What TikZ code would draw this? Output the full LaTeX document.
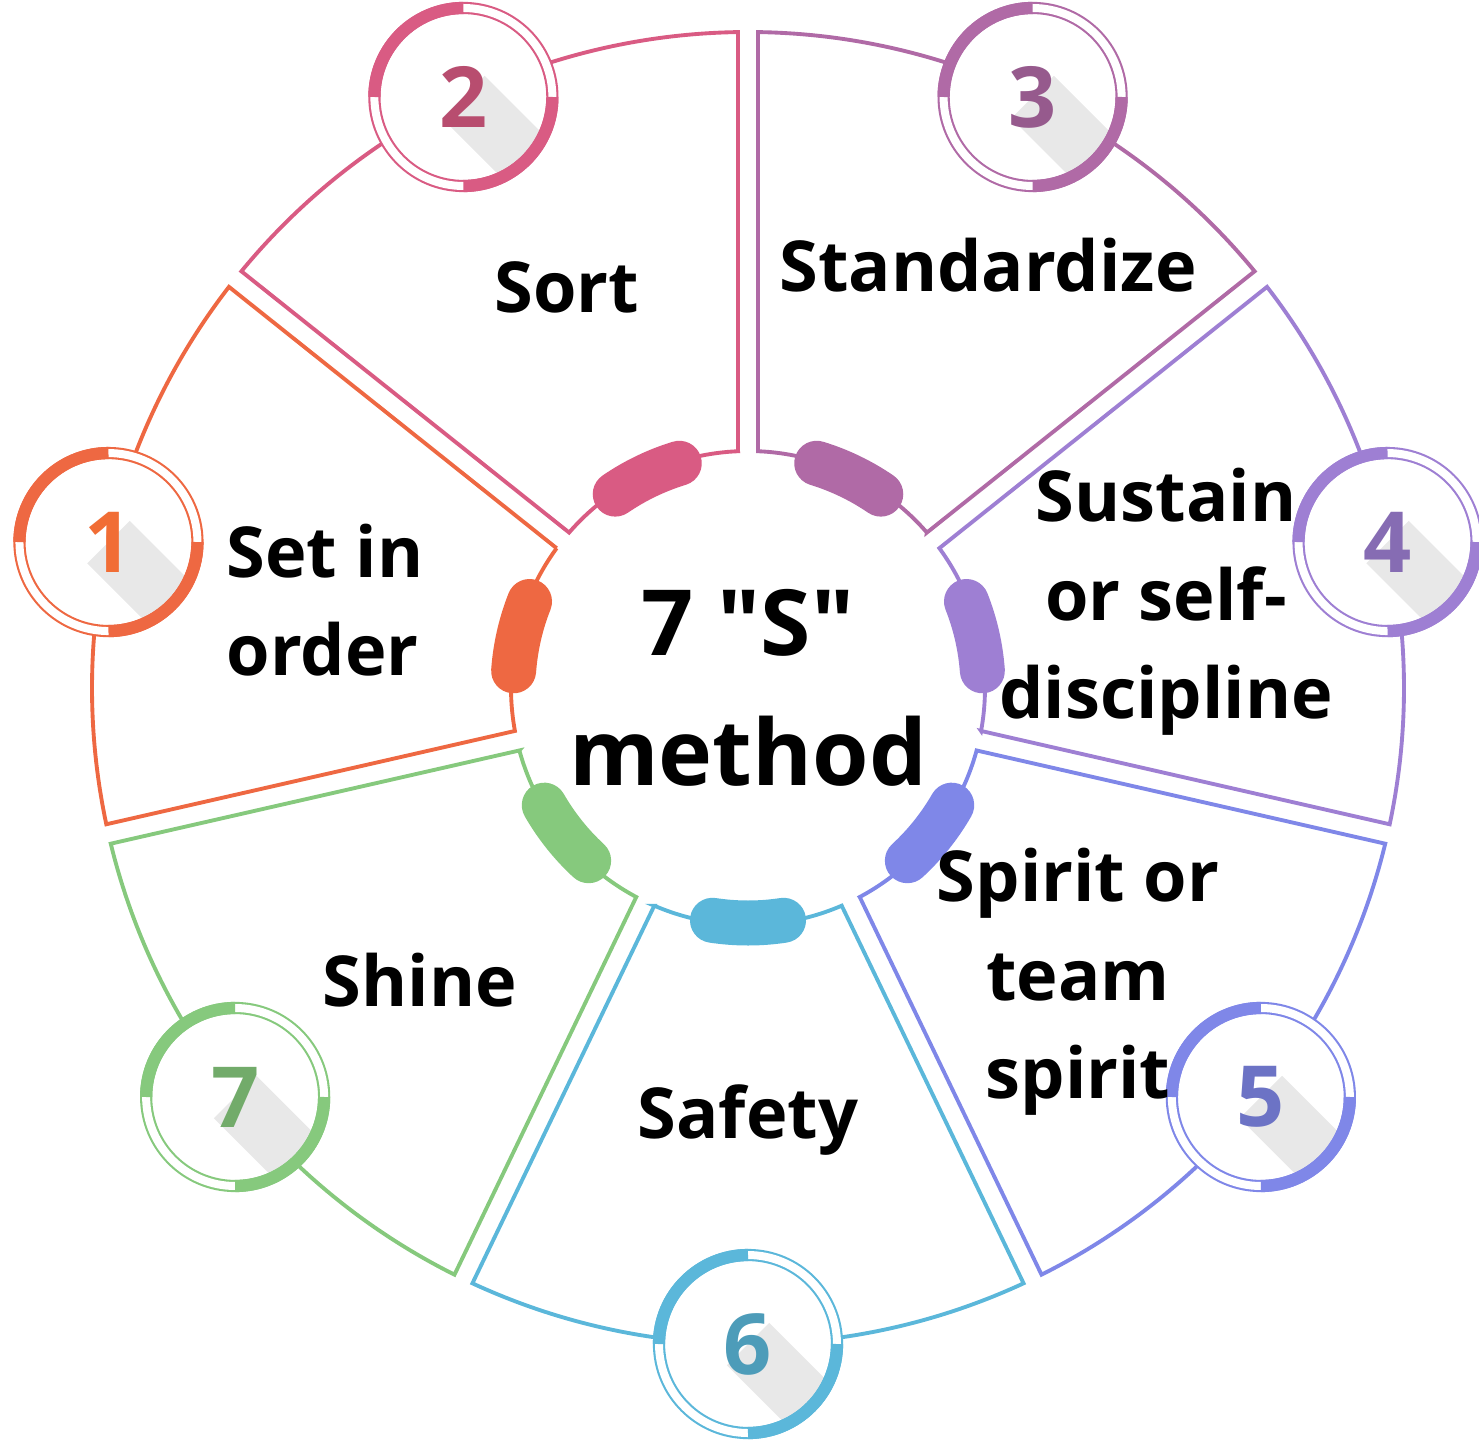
\documentclass[tikz,border=0pt]{standalone}
\usepackage{fontspec}
\setmainfont{Open Sans}[Ligatures=TeXOff]
\definecolor{myorange}{HTML}{EE6842}
\definecolor{mypink}{HTML}{D95B83}
\definecolor{mymauve}{HTML}{B06AA6}
\definecolor{mylilac}{HTML}{9E7FD3}
\definecolor{myblue}{HTML}{7F87E8}
\definecolor{mycyan}{HTML}{5BB7DA}
\definecolor{mygreen}{HTML}{86C97D}

\begin{document}
\begin{tikzpicture}[
    every node/.style={font=\bfseries},
    sector/.style={line width=1.1pt},
    pill/.style={line width=4.5mm,line cap=round},
    badge/.style={circle,minimum size=17.8mm,inner sep=0,outer sep=0,fill=white,
        line width=0.6pt,double=white,double distance=0.8mm,
        font=\bfseries\fontsize{24}{24}\selectfont,
        path picture={\fill [black,opacity=0.09] (path picture bounding box.center)
            ++(45:3mm) -- ++(-45:10mm) -- ++(-135:6mm) -- ++(135:10mm) -- cycle;}},
    ring/.style={line width=1.22mm},
    word/.style={font=\bfseries\fontsize{20}{28}\selectfont,align=center},
    title/.style={font=\bfseries\fontsize{26}{37}\selectfont,align=center}
]

\useasboundingbox (-7.48,-7.52) rectangle (7.31,6.88);

% sectors
\draw [sector,myorange] (143.85:2.37) -- (142.30:6.56) arc [start angle=142.30,end angle=191.99,radius=6.56] -- (190.44:2.37) arc [start angle=190.44,end angle=143.85,radius=2.37] -- cycle;
\draw [sector,mypink] (92.42:2.37) -- (90.87:6.56) arc [start angle=90.87,end angle=140.56,radius=6.56] -- (139.01:2.37) arc [start angle=139.01,end angle=92.42,radius=2.37] -- cycle;
\draw [sector,mymauve] (40.99:2.37) -- (39.44:6.56) arc [start angle=39.44,end angle=89.13,radius=6.56] -- (87.58:2.37) arc [start angle=87.58,end angle=40.99,radius=2.37] -- cycle;
\draw [sector,mylilac] (-10.44:2.37) -- (-11.99:6.56) arc [start angle=-11.99,end angle=37.70,radius=6.56] -- (36.15:2.37) arc [start angle=36.15,end angle=-10.44,radius=2.37] -- cycle;
\draw [sector,myblue] (-61.87:2.37) -- (-63.42:6.56) arc [start angle=-63.42,end angle=-13.73,radius=6.56] -- (-15.28:2.37) arc [start angle=-15.28,end angle=-61.87,radius=2.37] -- cycle;
\draw [sector,mycyan] (-113.29:2.37) -- (-114.84:6.56) arc [start angle=-114.84,end angle=-65.16,radius=6.56] -- (-66.71:2.37) arc [start angle=-66.71,end angle=-113.29,radius=2.37] -- cycle;
\draw [sector,mygreen] (-164.72:2.37) -- (-166.27:6.56) arc [start angle=-166.27,end angle=-116.58,radius=6.56] -- (-118.13:2.37) arc [start angle=-118.13,end angle=-164.72,radius=2.37] -- cycle;

% pills on the inner ring
\draw [pill,myorange] (158.4:2.35) arc [start angle=158.4,end angle=175.8,radius=2.35];
\draw [pill,mypink] (107.0:2.35) arc [start angle=107.0,end angle=124.4,radius=2.35];
\draw [pill,mymauve] (55.6:2.35) arc [start angle=55.6,end angle=73.0,radius=2.35];
\draw [pill,mylilac] (4.2:2.35) arc [start angle=4.2,end angle=21.6,radius=2.35];
\draw [pill,myblue] (-47.3:2.35) arc [start angle=-47.3,end angle=-29.9,radius=2.35];
\draw [pill,mycyan] (-98.7:2.35) arc [start angle=-98.7,end angle=-81.3,radius=2.35];
\draw [pill,mygreen] (-150.1:2.35) arc [start angle=-150.1,end angle=-132.7,radius=2.35];

% numbered badges
\node [badge,draw=myorange,text=myorange!80!orange] (b1) at (167.143:6.56) {1};
\draw [ring,myorange] (b1.north) arc [start angle=90,end angle=180,radius=8.9mm] (b1.south) arc [start angle=270,end angle=360,radius=8.9mm];

\node [badge,draw=mypink,text=mypink!85!black] (b2) at (115.714:6.56) {2};
\draw [ring,mypink] (b2.north) arc [start angle=90,end angle=180,radius=8.9mm] (b2.south) arc [start angle=270,end angle=360,radius=8.9mm];

\node [badge,draw=mymauve,text=mymauve!85!black] (b3) at (64.286:6.56) {3};
\draw [ring,mymauve] (b3.north) arc [start angle=90,end angle=180,radius=8.9mm] (b3.south) arc [start angle=270,end angle=360,radius=8.9mm];

\node [badge,draw=mylilac,text=mylilac!85!black] (b4) at (12.857:6.56) {4};
\draw [ring,mylilac] (b4.north) arc [start angle=90,end angle=180,radius=8.9mm] (b4.south) arc [start angle=270,end angle=360,radius=8.9mm];

\node [badge,draw=myblue,text=myblue!85!black] (b5) at (-38.571:6.56) {5};
\draw [ring,myblue] (b5.north) arc [start angle=90,end angle=180,radius=8.9mm] (b5.south) arc [start angle=270,end angle=360,radius=8.9mm];

\node [badge,draw=mycyan,text=mycyan!85!black] (b6) at (-90:6.56) {6};
\draw [ring,mycyan] (b6.north) arc [start angle=90,end angle=180,radius=8.9mm] (b6.south) arc [start angle=270,end angle=360,radius=8.9mm];

\node [badge,draw=mygreen,text=mygreen!85!black] (b7) at (-141.429:6.56) {7};
\draw [ring,mygreen] (b7.north) arc [start angle=90,end angle=180,radius=8.9mm] (b7.south) arc [start angle=270,end angle=360,radius=8.9mm];

% texts
\node [title] (method) at (0,0) {7 "S"\\method};
\node [word] (sort) at (-1.81,4.01) {Sort};
\node [word] (standardize) at (2.40,4.23) {Standardize};
\node [word,align=left] (setinorder) at (-4.23,0.88) {Set in\\order};
\node [word] (sustain) at (4.18,0.86) {Sustain\\or self-\\discipline};
\node [word] (spirit) at (3.30,-2.94) {Spirit or\\team\\spirit};
\node [word] (safety) at (0,-4.32) {Safety};
\node [word] (shine) at (-3.28,-2.92) {Shine};

\end{tikzpicture}
\end{document}
